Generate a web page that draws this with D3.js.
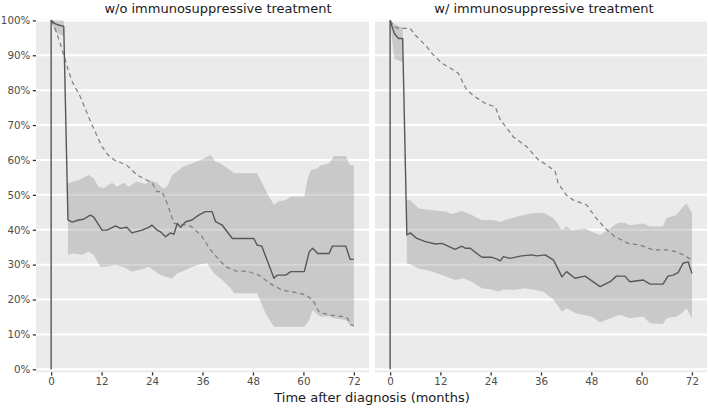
<!DOCTYPE html>
<html><head><meta charset="utf-8">
<script src="https://cdn.jsdelivr.net/npm/d3@7"></script>
<style>
body{margin:0;background:#fff;}
svg{display:block;}
.tick text{font-family:"DejaVu Sans",sans-serif;font-size:10.3px;fill:#4d4d4d;}
.tick line{stroke:#333;stroke-width:1.3;}
.domain{display:none;}
</style></head>
<body>
<svg id="c" width="708" height="408"></svg>
<script>
const panelTitles = ["w/o immunosuppressive treatment", "w/ immunosuppressive treatment"];
const xTicks = [0, 12, 24, 36, 48, 60, 72];
const yTicks = [0, 10, 20, 30, 40, 50, 60, 70, 80, 90, 100];
const xLabel = "Time after diagnosis (months)";

// w/o immunosuppressive treatment: [month, percent]
const woMid = [[0,0],[0,100],[1,99],[2,98.6],[3,98.3],[4,42.8],[5,42.2],[6.5,42.8],[7.7,43],[9.3,44.2],[10.1,43.7],[12.1,39.9],[13.3,39.9],[15.3,41.1],[16.5,40.4],[18,40.7],[19.2,39.1],[21.6,39.9],[23.2,40.7],[24,41.3],[25.2,39.9],[26,39.4],[27.2,38],[28.4,39.1],[29.2,38.7],[30,41.8],[30.8,40.7],[32,42.3],[33.5,42.8],[35.1,44.2],[36.7,45.2],[38.3,45.2],[39.1,42.3],[40.7,41.3],[43.1,37.5],[48.2,37.5],[49,35.6],[50.1,35.3],[53,26.1],[53.8,27],[55.8,27],[57,28],[60.2,28],[61.4,33.7],[62.2,34.7],[63.4,33.2],[66.1,33.2],[66.9,35.3],[70.1,35.3],[71.1,31.5],[72,31.5]];
const woHighEarly = [[0,100],[3,100]];
const woLowEarly = [[0,100],[1,96.5],[2,96],[3,95.5]];
const woHigh = [[4,53.3],[5.3,53.8],[6.5,54.2],[8.9,55.7],[10.1,54.7],[11.3,52.3],[12.5,51.9],[14.5,53.5],[15.7,52.3],[17.2,53.5],[18.4,52.3],[20.4,53.8],[22.4,53.1],[23.6,54.2],[25.2,53.5],[26.4,52],[27.2,51.9],[28,53.3],[28.8,55.7],[30.4,57.1],[31.2,58],[33.5,59],[36.3,60.4],[37.9,61.4],[39.1,59.5],[40.3,59],[42.7,57],[43.5,56.2],[49,56.2],[50.2,53.3],[51.4,50.4],[53,47.1],[53.8,48],[55.8,48.5],[57,49.5],[60.2,49.5],[61,54.7],[61.8,57.1],[63.4,57.6],[64.1,58.5],[66.1,59],[67.3,61.1],[70.1,61.1],[71.1,58.5],[72,58.5]];
const woLow = [[4,32.8],[5.3,33.2],[7.3,32.8],[8.9,33.7],[10.1,32.8],[11.7,29.4],[13.3,29.4],[15.3,29.9],[17.6,29.1],[19.2,28],[21.6,28.7],[23.2,29.4],[24.8,28],[26,27],[27.2,26.5],[28.8,26.1],[30,27.5],[31.2,28],[32.7,28.9],[34.7,29.9],[37.1,30.4],[38.7,27.5],[40.7,25.6],[42.7,23.2],[43.5,21.8],[49,21.8],[51,16],[53,12.2],[60.2,12.2],[61.4,14.1],[62.2,17],[63.4,15.6],[64.1,15.1],[66.1,15.1],[67.3,14.6],[70.1,14.1],[71.1,12.7],[72,12.2]];
const woDash = [[0,100],[1,97.5],[2,94],[3,90],[4,86],[5,82.5],[7,78],[9,72],[10.5,68],[12,64],[13.5,61.5],[15,60],[18,58.5],[20.4,55.7],[22.8,54.2],[24,53.5],[25.2,50.9],[26.4,50.9],[27.6,47.6],[29.2,41.8],[32.7,41.3],[33.9,40.4],[35.9,38],[37.9,34.2],[39.5,32],[41.5,29.4],[43.9,28.2],[47,28],[49.4,27],[51,25.6],[52.6,24.2],[55,22.7],[59,21.8],[60.6,21.3],[62.2,19.9],[63.7,16.5],[64.9,16],[66.1,15.6],[69.3,15.1],[70.5,14.6],[71.3,12.7],[72,12.5]];

// w/ immunosuppressive treatment
const wMid = [[0,0],[0,100],[1,96.3],[2,94.8],[3,94.8],[4,38.5],[4.8,39.1],[6.4,37.5],[8.4,36.6],[10.8,35.9],[12.4,36.1],[15.5,34.4],[17.1,35.3],[17.9,34.7],[19.1,34.7],[21.9,32.1],[24.3,32.1],[25.5,31.6],[26.3,31.1],[27,32.3],[28.6,31.8],[31.4,32.5],[33.8,32.8],[35,32.5],[37,32.8],[39,31.3],[41,26.5],[42.1,28],[44.1,26.1],[46.5,26.7],[50.1,23.7],[52.5,25.1],[54,26.7],[56,26.7],[57.2,25.1],[60.4,25.6],[62,24.4],[65.1,24.4],[66.3,26.7],[67.5,27],[68.7,27.7],[69.9,30.4],[71.1,30.8],[72,27.5]];
const wHighEarly = [[0,100],[1,99],[3,98]];
const wLowEarly = [[0,100],[1,89],[3,88]];
const wHigh = [[4,48.5],[4.8,48.5],[6.8,46.1],[10,45.6],[13.2,45.2],[14.8,44.5],[17.1,45.4],[19.5,44.2],[21.9,42.8],[24.3,42.8],[26.3,42.3],[27.5,42.8],[30.6,43.9],[33.8,44.7],[36.6,44.9],[39,43.3],[41,39.9],[42.1,40.9],[43.3,39.9],[46.5,40.4],[48.1,39.4],[50.1,38.5],[52.5,40.4],[54.4,42],[56,42],[57.2,41.3],[60.4,41.8],[62,40.9],[65.1,40.9],[65.9,43.3],[68.3,44.2],[69.9,46.6],[70.7,47.6],[72,44.7]];
const wLow = [[4,30.4],[5.2,29.9],[6.8,28.9],[10,28],[12.4,27],[15.5,25.6],[17.5,26.1],[19.5,25.1],[21.9,23.2],[24.3,22.9],[25.9,22.2],[27,22.9],[29.4,22.7],[32.2,23.2],[34.6,22.7],[36.6,22.2],[39,19.9],[41,16.5],[42.1,17.5],[44.5,16],[48.1,15.1],[50.1,13.4],[52.5,14.6],[54.8,15.6],[57.2,14.6],[60.4,15.1],[62,13.2],[65.1,13],[65.9,14.6],[68.3,15.1],[69.5,16],[70.7,17.5],[72,14.6]];
const wDash = [[0,100],[1,98.2],[2,97.7],[4.8,97.7],[6,95.8],[8.8,92.4],[10,90.5],[12.4,87.7],[15.1,85.8],[16.3,84.8],[18.3,80],[20.3,78.1],[22.7,76.2],[25.1,75.2],[26.3,71.4],[27.9,69.1],[29.4,66.6],[31,65.2],[32.6,63.8],[35.4,60],[37.5,58.5],[39.4,56.6],[40.1,53.3],[42.1,49.9],[43.7,48.5],[46.9,47.1],[48.9,43.7],[51.3,40.4],[53.6,38],[56.8,36.1],[59.6,35.6],[62.8,34.2],[66,34.2],[68.3,33.7],[69.9,32.8],[72,31.3]];

const panels = [
  {title: panelTitles[0], x0: 36, x1: 369, titleX: 218, mid: woMid, dash: woDash,
   bands: [[woHighEarly, woLowEarly], [woHigh, woLow]], yAxis: true},
  {title: panelTitles[1], x0: 375, x1: 707, titleX: 544, mid: wMid, dash: wDash,
   bands: [[wHighEarly, wLowEarly], [wHigh, wLow]], yAxis: false}
];

const svg = d3.select("#c");
const pTop = 19.5, pBot = 372.3;
const y = d3.scaleLinear().domain([0, 100]).range([369.3, 20.4]);

panels.forEach(p => {
  const x = d3.scaleLinear().domain([-3.6, 75.6]).range([p.x0, p.x1]);
  const g = svg.append("g");
  g.append("rect").attr("x", p.x0).attr("y", pTop).attr("width", p.x1 - p.x0).attr("height", pBot - pTop).attr("fill", "#ebebeb");
  g.selectAll("line.grid").data(yTicks).enter().append("line")
    .attr("x1", p.x0).attr("x2", p.x1).attr("y1", d => y(d)).attr("y2", d => y(d))
    .attr("stroke", "#fff").attr("stroke-width", 2);
  const line = d3.line().x(d => x(d[0])).y(d => y(d[1]));
  p.bands.forEach(([hi, lo]) => {
    const pts = hi.concat(lo.slice().reverse());
    g.append("path").attr("d", line(pts) + "Z").attr("fill", "#7a7a7a").attr("fill-opacity", 0.3);
  });
  g.append("path").attr("d", line(p.dash)).attr("fill", "none").attr("stroke", "#808080")
    .attr("stroke-width", 1.25).attr("stroke-dasharray", "4.5,3.5");
  g.append("path").attr("d", line(p.mid)).attr("fill", "none").attr("stroke", "#575757")
    .attr("stroke-width", 1.4).attr("stroke-linejoin", "round");
  g.append("g").attr("transform", `translate(0,${pBot})`)
    .call(d3.axisBottom(x).tickValues(xTicks).tickSize(3.2).tickPadding(2.5).tickFormat(d3.format("d")));
  if (p.yAxis) {
    g.append("g").attr("transform", `translate(${p.x0},0)`)
      .call(d3.axisLeft(y).tickValues(yTicks).tickSize(3.2).tickPadding(2.5).tickFormat(d => d + "%"));
  }
  svg.append("text").attr("x", p.titleX).attr("y", 12.5).attr("text-anchor", "middle")
    .attr("font-family", "DejaVu Sans, sans-serif").attr("font-size", 13).attr("fill", "#1a1a1a").text(p.title);
});

svg.append("text").attr("x", 372).attr("y", 401.5).attr("text-anchor", "middle")
  .attr("font-family", "DejaVu Sans, sans-serif").attr("font-size", 13).attr("fill", "#1a1a1a").text(xLabel);
</script>
</body></html>
